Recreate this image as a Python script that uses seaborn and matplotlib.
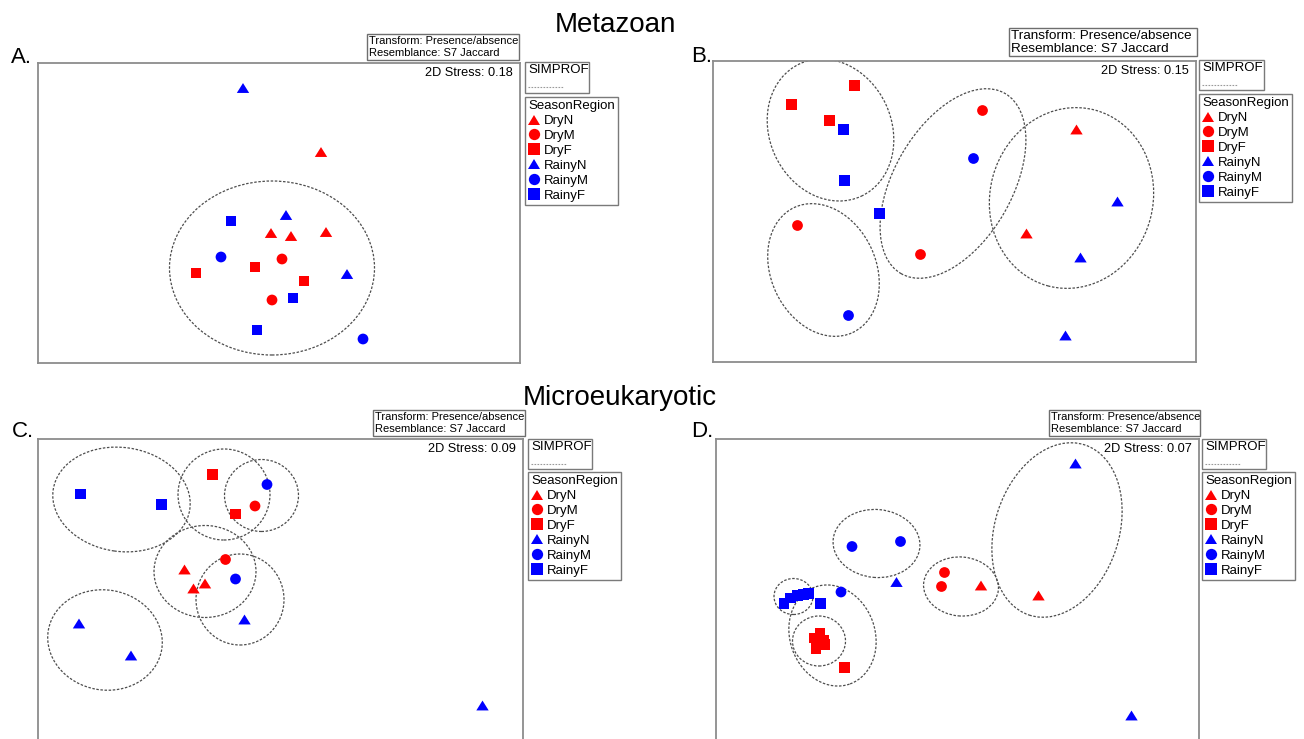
import matplotlib
matplotlib.use("Agg")
import matplotlib.pyplot as plt
from matplotlib.markers import MarkerStyle
from matplotlib.patches import Ellipse, Rectangle
from matplotlib.transforms import Affine2D
import pandas as pd
import seaborn as sns

sns.set_style("white")
plt.rcParams["font.family"] = ["Liberation Sans", "DejaVu Sans"]
plt.rcParams["text.color"] = "black"

W, H = 1304, 739

GROUPS = ["DryN", "DryM", "DryF", "RainyN", "RainyM", "RainyF"]
PALETTE = {"DryN": "#ff0000", "DryM": "#ff0000", "DryF": "#ff0000",
           "RainyN": "#0000ff", "RainyM": "#0000ff", "RainyF": "#0000ff"}
# slightly wide, flat triangles as in PRIMER output
TRI = MarkerStyle("^", transform=Affine2D().scale(1.15, 0.92))
MARKERS = {"DryN": TRI, "DryM": "o", "DryF": "s",
           "RainyN": TRI, "RainyM": "o", "RainyF": "s"}

# ---- A. Metazoan, 2D nMDS ordination ----
A_group = ["RainyN", "DryN", "RainyF", "RainyN", "DryN", "DryN", "DryN", "RainyM",
           "DryM", "DryF", "DryF", "DryF", "RainyN", "DryM", "RainyF", "RainyF", "RainyM"]
A_x = [-0.36, 0.42, -0.48, 0.07, -0.08, 0.12, 0.47, -0.58,
       0.03, -0.24, -0.83, 0.25, 0.68, -0.07, 0.14, -0.22, 0.84]
A_y = [1.25, 0.61, -0.08, -0.02, -0.20, -0.23, -0.19, -0.44,
       -0.46, -0.54, -0.60, -0.68, -0.61, -0.87, -0.85, -1.17, -1.26]
A_stress = 0.18
# SIMPROF groups: centre x, centre y, width, height, angle
A_clusters = [(-0.07, -0.55, 2.05, 1.74, 0)]

# ---- B. Metazoan, 2D nMDS ordination ----
B_group = ["DryF", "DryF", "DryF", "RainyF", "RainyF", "RainyF", "DryM", "RainyM",
           "DryM", "RainyM", "DryM", "DryN", "RainyN", "DryN", "RainyN", "RainyN"]
B_x = [-1.00, -1.63, -1.25, -1.11, -1.10, -0.75, -1.57, -1.06,
       0.28, 0.19, -0.34, 1.22, 1.63, 0.72, 1.26, 1.11]
B_y = [1.26, 1.07, 0.91, 0.82, 0.31, -0.02, -0.14, -1.04,
       1.01, 0.53, -0.43, 0.82, 0.10, -0.22, -0.46, -1.24]
B_stress = 0.15
B_clusters = [(-1.24, 0.815, 1.22, 1.46, 25),
              (-1.31, -0.585, 1.05, 1.38, 25),
              (-0.015, 0.28, 1.18, 2.08, -30),
              (1.17, 0.135, 1.63, 1.82, -15)]

# ---- C. Microeukaryotic, 2D nMDS ordination ----
C_group = ["RainyF", "RainyF", "DryF", "RainyM", "DryM", "DryF", "DryM", "DryN",
           "RainyM", "DryN", "DryN", "RainyN", "RainyN", "RainyN", "RainyN"]
C_x = [-2.00, -1.19, -0.68, -0.135, -0.255, -0.45, -0.55, -0.96,
       -0.45, -0.755, -0.87, -0.36, -2.015, -1.495, 2.02]
C_y = [0.955, 0.85, 1.15, 1.05, 0.835, 0.755, 0.30, 0.20,
       0.105, 0.06, 0.01, -0.30, -0.34, -0.66, -1.16]
C_stress = 0.09
C_clusters = [(-1.59, 0.90, 1.38, 1.04, -8),
              (-0.565, 0.95, 0.92, 0.91, 0),
              (-0.19, 0.94, 0.74, 0.72, 0),
              (-0.755, 0.18, 1.02, 0.92, 0),
              (-0.405, -0.10, 0.88, 0.91, 0),
              (-1.755, -0.505, 1.15, 1.00, -10)]

# ---- D. Microeukaryotic, 2D nMDS ordination ----
D_group = ["RainyN", "RainyM", "RainyM", "RainyN", "DryM", "DryM", "DryN", "DryN",
           "RainyM", "RainyF", "RainyF", "RainyF", "RainyF", "RainyF", "RainyF",
           "DryF", "DryF", "DryF", "DryF", "DryF", "DryF", "RainyN"]
D_x = [1.18, -1.055, -0.57, -0.61, -0.13, -0.16, 0.235, 0.81,
       -1.165, -1.735, -1.668, -1.602, -1.542, -1.492, -1.368,
       -1.375, -1.435, -1.335, -1.325, -1.415, -1.13, 1.74]
D_y = [1.26, 0.43, 0.48, 0.075, 0.17, 0.03, 0.04, -0.06,
       -0.025, -0.142, -0.085, -0.058, -0.048, -0.042, -0.142,
       -0.44, -0.485, -0.505, -0.55, -0.59, -0.78, -1.26]
D_stress = 0.07
D_clusters = [(0.995, 0.595, 1.24, 1.79, -18),
              (-0.81, 0.46, 0.87, 0.68, -5),
              (0.035, 0.03, 0.75, 0.59, -5),
              (-1.64, -0.07, 0.39, 0.36, 0),
              (-1.25, -0.46, 0.85, 1.03, 20),
              (-1.385, -0.515, 0.53, 0.50, 0)]

TRANSFORM_LINES = ["Transform: Presence/absence", "Resemblance: S7 Jaccard"]


def frac(x0, y0, x1, y1):
    return [x0 / W, 1 - y1 / H, (x1 - x0) / W, (y1 - y0) / H]


fig = plt.figure(figsize=(W / 100, H / 100), dpi=100)

# page-level layer in pixel units for headings and info boxes
page = fig.add_axes([0, 0, 1, 1], zorder=0)
page.set_xlim(0, W)
page.set_ylim(H, 0)
page.axis("off")

page.text(615, 32, "Metazoan", fontsize=20, ha="center", va="baseline")
page.text(620, 405, "Microeukaryotic", fontsize=20, ha="center", va="baseline")

panels = [
    dict(label="A.", lab_xy=(11, 63), box=(38, 63, 520, 363),
         g=A_group, x=A_x, y=A_y, stress=A_stress, cl=A_clusters,
         tbox=(367, 34, 519, 60), tfs=8.0,
         sbox=(525, 62, 589, 93), lpos=(525, 97)),
    dict(label="B.", lab_xy=(691, 62), box=(713, 61, 1196, 362),
         g=B_group, x=B_x, y=B_y, stress=B_stress, cl=B_clusters,
         tbox=(1009, 28, 1197, 56), tfs=9.7,
         sbox=(1199, 60, 1264, 90), lpos=(1199, 94)),
    dict(label="C.", lab_xy=(12, 437), box=(38, 439, 523, 740),
         g=C_group, x=C_x, y=C_y, stress=C_stress, cl=C_clusters,
         tbox=(373, 410, 525, 436), tfs=8.0,
         sbox=(528, 439, 592, 469), lpos=(528, 472)),
    dict(label="D.", lab_xy=(691, 437), box=(716, 439, 1199, 740),
         g=D_group, x=D_x, y=D_y, stress=D_stress, cl=D_clusters,
         tbox=(1049, 410, 1200, 436), tfs=8.0,
         sbox=(1202, 439, 1266, 469), lpos=(1202, 472)),
]

for p in panels:
    x0, y0, x1, y1 = p["box"]
    ax = fig.add_axes(frac(x0, y0, x1, y1), zorder=2)
    df = pd.DataFrame({"MDS1": p["x"], "MDS2": p["y"], "SeasonRegion": p["g"]})
    sns.scatterplot(data=df, x="MDS1", y="MDS2", hue="SeasonRegion", style="SeasonRegion",
                    hue_order=GROUPS, style_order=GROUPS, palette=PALETTE, markers=MARKERS,
                    s=60, linewidth=0, ax=ax, zorder=3)
    for (cx, cy, w, h, ang) in p["cl"]:
        ax.add_patch(Ellipse((cx, cy), w, h, angle=ang, fill=False, edgecolor="#4d4d4d",
                             linewidth=0.9, linestyle=(0, (2.0, 1.3)), zorder=2))
    hw = (x1 - x0) / 200
    hh = (y1 - y0) / 200
    ax.set_xlim(-hw, hw)
    ax.set_ylim(-hh, hh)
    ax.set_xticks([])
    ax.set_yticks([])
    ax.set_xlabel("")
    ax.set_ylabel("")
    for sp in ax.spines.values():
        sp.set_visible(True)
        sp.set_color("#8c8c8c")
        sp.set_linewidth(1.3)
    ax.text(1 - 7 / (x1 - x0), 1 - 10 / (y1 - y0), f"2D Stress: {p['stress']:.2f}",
            transform=ax.transAxes, ha="right", va="center", fontsize=9.2)

    lx, ly = p["lpos"]
    sns.move_legend(ax, "upper left", bbox_to_anchor=(lx / W, 1 - ly / H),
                    bbox_transform=fig.transFigure, borderaxespad=0, frameon=True,
                    fancybox=False, edgecolor="#7a7a7a", framealpha=1,
                    fontsize=9.5, title_fontsize=9.5, labelspacing=0.2,
                    handlelength=0.8, handletextpad=0.4, borderpad=0.25,
                    alignment="left", markerscale=1.05)
    ax.get_legend().get_frame().set_linewidth(1.0)

    # panel letter
    page.text(p["lab_xy"][0], p["lab_xy"][1], p["label"], fontsize=16, va="baseline")

    # transform / resemblance note
    tx0, ty0, tx1, ty1 = p["tbox"]
    page.add_patch(Rectangle((tx0, ty0), tx1 - tx0, ty1 - ty0, fill=False,
                             edgecolor="#6e6e6e", linewidth=1.0))
    th = ty1 - ty0
    page.text(tx0 + 2, ty0 + th * 0.28, TRANSFORM_LINES[0], fontsize=p["tfs"], va="center")
    page.text(tx0 + 2, ty0 + th * 0.74, TRANSFORM_LINES[1], fontsize=p["tfs"], va="center")

    # SIMPROF key
    sx0, sy0, sx1, sy1 = p["sbox"]
    page.add_patch(Rectangle((sx0, sy0), sx1 - sx0, sy1 - sy0, fill=False,
                             edgecolor="#7a7a7a", linewidth=1.0))
    page.text(sx0 + 3, sy0 + 8, "SIMPROF", fontsize=9.5, va="center")
    page.plot([sx0 + 3, sx0 + 38], [sy0 + 25, sy0 + 25], color="#9a9a9a",
              linewidth=0.8, linestyle=(0, (1.5, 1.2)))

fig.savefig("out.png", dpi=100, facecolor="white")
